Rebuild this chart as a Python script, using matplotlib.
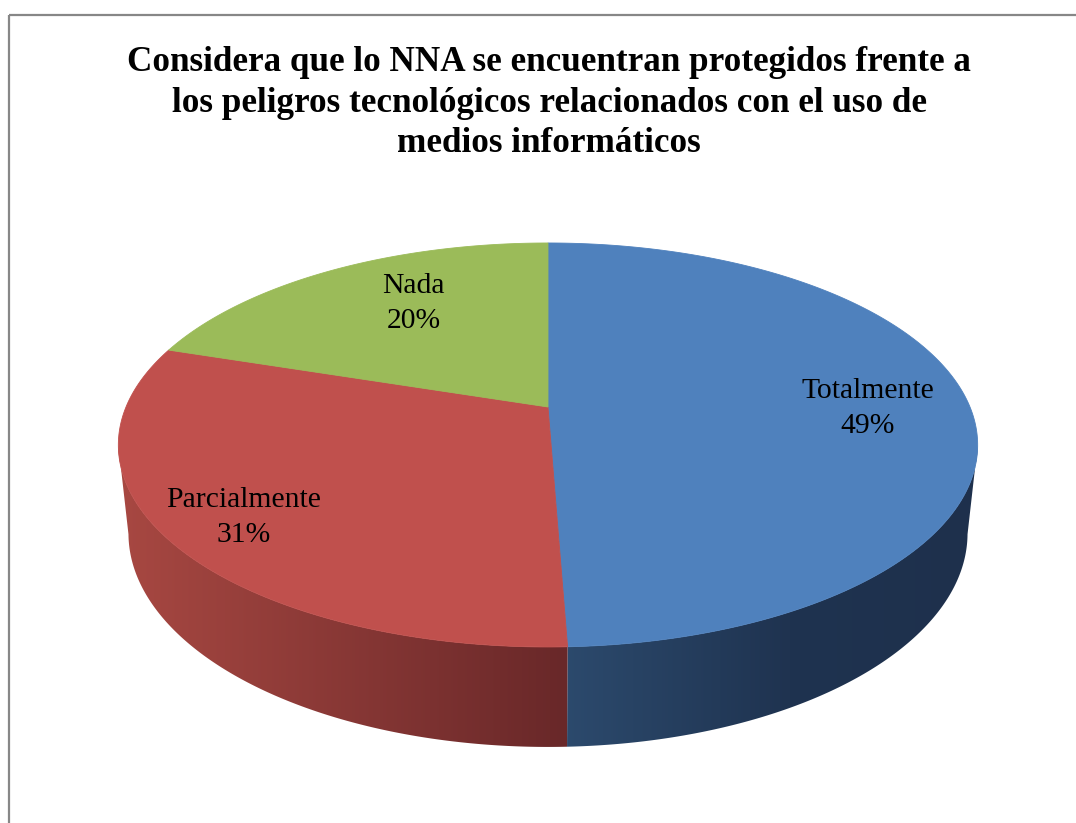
import matplotlib.pyplot as plt
import numpy as np
from matplotlib.patches import Polygon, Rectangle

# data
categorias = ["Totalmente", "Parcialmente", "Nada"]
porcentajes = [49.4, 30.6, 20.0]
colores = ["#4F81BD", "#C0504D", "#9BBB59"]
titulo = ("Considera que lo NNA se encuentran protegidos frente a\n"
          "los peligros tecnológicos relacionados con el uso de\n"
          "medios informáticos")

# 3D view of the pie (pixels)
CX, CY = 548, 407
ESCALA = 422
ELEV = np.radians(27.5)
K = 0.188
DIST = np.cos(ELEV) / K
GROSOR = 0.238

# side shading stops (x pixel, colour)
sombra = {
    "#C0504D": [(118, "#A84842"), (564, "#692829")],
    "#4F81BD": [(564, "#2C4A6D"), (790, "#1F3350"), (978, "#1E304C")],
}
label_r = [0.76, 0.82, 0.71]
label_da = [0, 0, -6]


def proj(theta, r=1.0, z=0.0):
    x = r * np.cos(theta)
    y = r * np.sin(theta)
    w = 1 + (y * np.cos(ELEV) - z * np.sin(ELEV)) / DIST
    X = CX + ESCALA * x / w
    Y = CY - ESCALA * (y * np.sin(ELEV) + z * np.cos(ELEV)) / w
    return X, Y


def hex2rgb(h):
    return np.array([int(h[i:i + 2], 16) / 255 for i in (1, 3, 5)])


fig = plt.figure(figsize=(10.76, 8.23), dpi=100)
ax = fig.add_axes([0, 0, 1, 1])

# outer frame
ax.add_patch(Rectangle((9, 15), 1200, 1000, fill=False, edgecolor="#878787", lw=1.6, zorder=0))

fracs = np.array(porcentajes) / sum(porcentajes)
bordes = np.radians(90 - 360 * np.concatenate([[0], np.cumsum(fracs)]))
sil = np.arcsin(K)
vis_hi, vis_lo = -sil, -np.pi + sil

for i, col in enumerate(colores):
    a0, a1 = bordes[i], bordes[i + 1]

    # side wall (front, visible part only)
    hi, lo = min(a0, vis_hi), max(a1, vis_lo)
    if hi > lo:
        t = np.linspace(hi, lo, 200)
        xt, yt = proj(t)
        xb, yb = proj(t[::-1], z=-GROSOR)
        pts = np.column_stack([np.concatenate([xt, xb]), np.concatenate([yt, yb])])
        poly = Polygon(pts, closed=True, facecolor="none", edgecolor="none")
        ax.add_patch(poly)
        stops = sombra[col]
        xs = np.linspace(100, 1000, 900)
        sx = [s[0] for s in stops]
        rgb = np.array([hex2rgb(s[1]) for s in stops])
        grad = np.stack([np.interp(xs, sx, rgb[:, c]) for c in range(3)], axis=-1)[None, :, :]
        im = ax.imshow(grad, extent=[100, 1000, 800, 300], aspect="auto", zorder=1)
        im.set_clip_path(poly)

    # top face
    t = np.linspace(a0, a1, 300)
    xt, yt = proj(t)
    pts = np.column_stack([np.concatenate([[CX], xt]), np.concatenate([[CY], yt])])
    ax.add_patch(Polygon(pts, closed=True, facecolor=col, edgecolor=col, lw=0.6, zorder=2))

    # label
    mid = (a0 + a1) / 2 + np.radians(label_da[i])
    lx, ly = proj(mid, r=label_r[i])
    ax.text(lx, ly + 4, f"{categorias[i]}\n{round(porcentajes[i])}%", ha="center", va="center",
            fontsize=21.3, family="Liberation Serif", linespacing=1.45, zorder=3)

ax.text(549, 103, titulo, ha="center", va="center", fontsize=25.3, fontweight="bold",
        family="Liberation Serif", linespacing=1.3)

ax.set_xlim(0, 1076)
ax.set_ylim(823, 0)
ax.set_aspect("auto")
ax.axis("off")
fig.savefig("out.png", dpi=100)
